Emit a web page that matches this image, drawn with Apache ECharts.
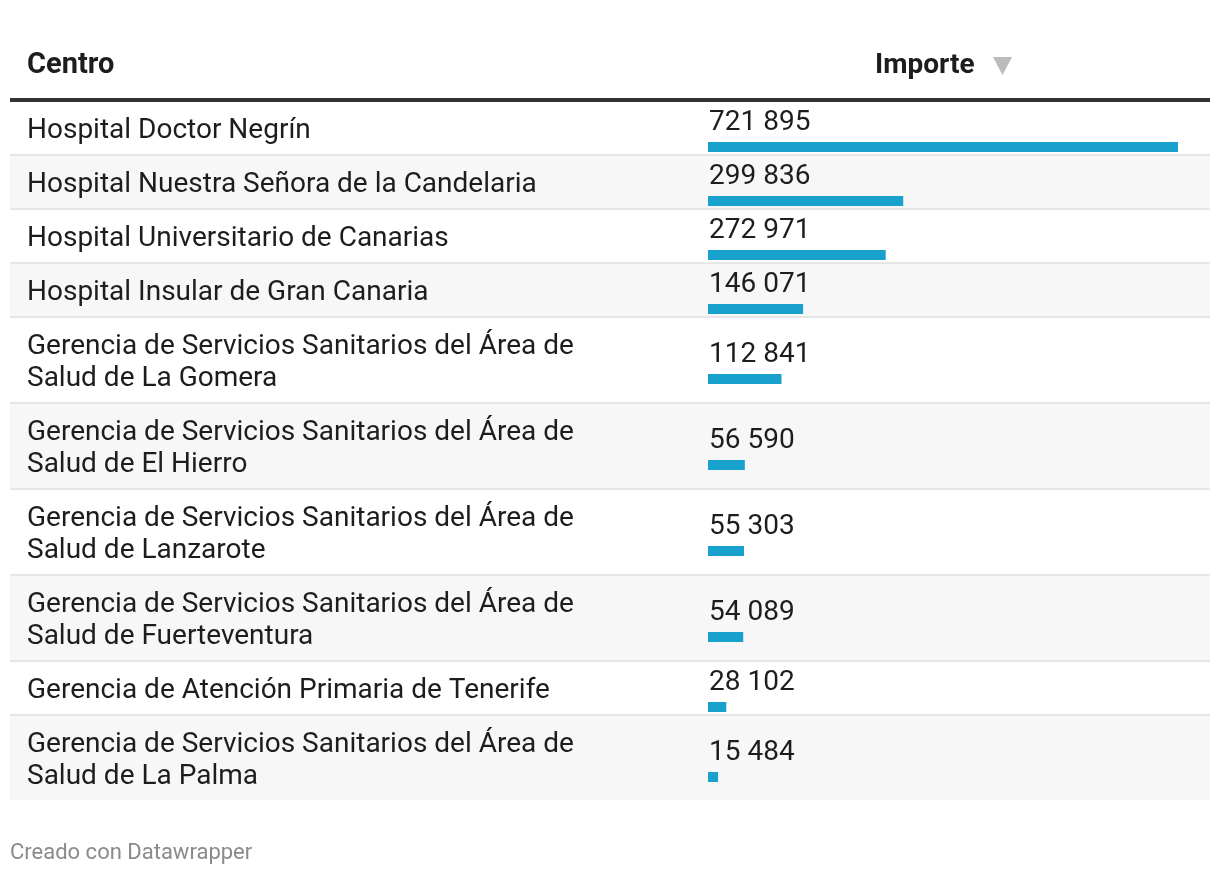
<!DOCTYPE html>
<html><head><meta charset="utf-8">
<script src="https://cdn.jsdelivr.net/npm/echarts@6/dist/echarts.min.js"></script>
<style>html,body{margin:0;padding:0;background:#fff}#c{width:1220px;height:876px}</style>
</head><body><div id="c"></div>
<script>
const centros = [
  'Hospital Doctor Negrín',
  'Hospital Nuestra Señora de la Candelaria',
  'Hospital Universitario de Canarias',
  'Hospital Insular de Gran Canaria',
  'Gerencia de Servicios Sanitarios del Área de Salud de La Gomera',
  'Gerencia de Servicios Sanitarios del Área de Salud de El Hierro',
  'Gerencia de Servicios Sanitarios del Área de Salud de Lanzarote',
  'Gerencia de Servicios Sanitarios del Área de Salud de Fuerteventura',
  'Gerencia de Atención Primaria de Tenerife',
  'Gerencia de Servicios Sanitarios del Área de Salud de La Palma'
];
const importes = [721895, 299836, 272971, 146071, 112841, 56590, 55303, 54089, 28102, 15484];
const headerCentro = 'Centro';
const headerImporte = 'Importe';
const footerText = 'Creado con Datawrapper';

const FONT = 'Roboto, "Noto Sans", sans-serif';
const LABEL_SIZE = 28, LABEL_W = 590, LINE_H = 32;
const TEXT_COLOR = '#1d1d1d';
const BAR_COLOR = '#18a1cd';

// layout: row heights derived from line count of each label
const cv = document.createElement('canvas').getContext('2d');
cv.font = LABEL_SIZE + 'px Roboto';
const rowTops = [], rowHeights = [];
let yCursor = 102;
centros.forEach(function (c) {
  const lines = cv.measureText(c).width > LABEL_W ? 2 : 1;
  const h = lines === 2 ? 84 : 52;
  rowTops.push(yCursor); rowHeights.push(h);
  yCursor += h + 2;
});

function fmt(v) { return String(v).replace(/\B(?=(\d{3})+(?!\d))/g, ' '); }

const chart = echarts.init(document.getElementById('c'), null, {renderer: 'canvas'});
chart.setOption({
  animation: false,
  backgroundColor: '#ffffff',
  grid: {left: 708, width: 470, top: 0, height: 876},
  xAxis: {type: 'value', min: 0, max: function (e) { return e.max; }, show: false},
  yAxis: {type: 'value', min: 0, max: 876, inverse: true, show: false},
  graphic: [
    {type: 'text', x: 27, y: 66, style: {text: headerCentro, font: 'bold 29px ' + FONT, fill: TEXT_COLOR, verticalAlign: 'middle'}},
    {type: 'text', x: 875, y: 66, style: {text: headerImporte, font: 'bold 28px ' + FONT, fill: TEXT_COLOR, verticalAlign: 'middle'}},
    {type: 'polygon', shape: {points: [[993, 57], [1012, 57], [1002.5, 75]]}, style: {fill: '#bbbbbb'}},
    {type: 'rect', shape: {x: 10, y: 98, width: 1200, height: 4}, style: {fill: '#333333'}},
    {type: 'text', x: 10, y: 853, style: {text: footerText, font: '22px ' + FONT, fill: '#8a8a8a', verticalAlign: 'middle'}}
  ],
  series: [{
    type: 'custom',
    clip: false,
    coordinateSystem: 'cartesian2d',
    data: importes.map(function (v, i) { return [v, i]; }),
    renderItem: function (params, api) {
      const i = params.dataIndex;
      const v = api.value(0);
      const top = api.coord([0, rowTops[i]])[1];
      const h = rowHeights[i];
      const x0 = api.coord([0, 0])[0];
      const x1 = api.coord([v, 0])[0];
      const children = [
        {type: 'rect', shape: {x: 10, y: top, width: 1200, height: h}, style: {fill: i % 2 ? '#f7f7f7' : '#ffffff'}}
      ];
      if (i < importes.length - 1) {
        children.push({type: 'rect', shape: {x: 10, y: top + h, width: 1200, height: 2}, style: {fill: '#e6e6e6'}});
      }
      children.push({type: 'text', x: 27, y: top + h / 2 + 2.5, style: {
        text: centros[i], font: LABEL_SIZE + 'px ' + FONT, fill: TEXT_COLOR,
        width: LABEL_W, overflow: 'break', lineHeight: LINE_H,
        align: 'left', verticalAlign: 'middle'}});
      children.push({type: 'text', x: x0 + 1, y: top + h / 2 - 5.5, style: {
        text: fmt(v), font: LABEL_SIZE + 'px ' + FONT, fill: TEXT_COLOR,
        align: 'left', verticalAlign: 'middle'}});
      children.push({type: 'rect', shape: {x: x0, y: top + h / 2 + 14, width: Math.max(x1 - x0, 1), height: 10}, style: {fill: BAR_COLOR}});
      return {type: 'group', children: children};
    }
  }]
});
</script>
</body></html>
